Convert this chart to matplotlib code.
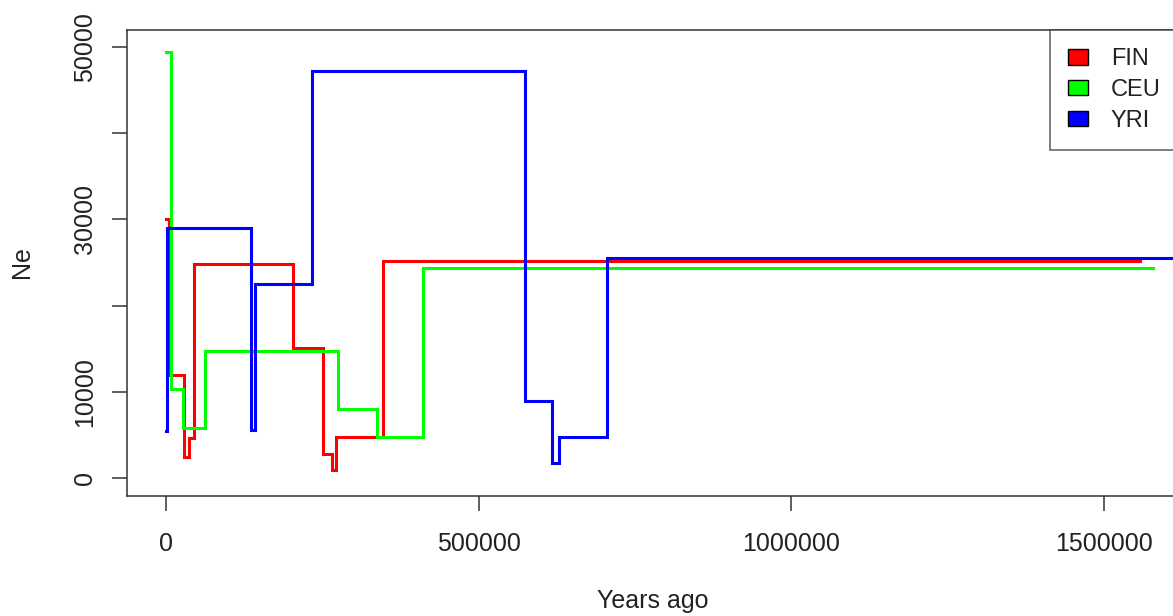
import matplotlib
matplotlib.use("Agg")
import matplotlib.pyplot as plt
from matplotlib.patches import Patch

plt.rcParams['font.family'] = ['Liberation Sans', 'DejaVu Sans']

# ---- data ----
series_names = ["FIN", "CEU", "YRI"]
series_colors = ["#ff0000", "#00ff00", "#0000ff"]

fin_years = [0, 4000, 28600, 36600, 44600, 203000, 251000, 265400, 271400, 346000, 1558000]
fin_ne = [30050, 11970, 2420, 4630, 24800, 15130, 2820, 1000, 4750, 25200, 25200]

ceu_years = [0, 6900, 26100, 61800, 274000, 337500, 411000, 1579000]
ceu_ne = [49430, 10310, 5860, 14790, 8000, 4750, 24400, 24400]

yri_years = [0, 1500, 134900, 141800, 233400, 573300, 617400, 628600, 705400, 1650000]
yri_ne = [5520, 28970, 5560, 22510, 47200, 8960, 1740, 4820, 25490, 25490]

x_ticks = [0, 500000, 1000000, 1500000]
x_tick_labels = ["0", "500000", "1000000", "1500000"]
y_ticks = [0, 10000, 20000, 30000, 40000, 50000]
y_tick_labels = ["0", "10000", "", "30000", "", "50000"]

xlim = (-62320, 1620320)
ylim = (-2000, 52000)

# ---- figure ----
W, H = 1173, 616
fig = plt.figure(figsize=(W / 100, H / 100), dpi=100)
left_px, right_px, top_px, bottom_px = 127.4, 1179.1, 29.5, 495.6
ax = fig.add_axes([left_px / W, 1 - bottom_px / H,
                   (right_px - left_px) / W, (bottom_px - top_px) / H])

data = [(fin_years, fin_ne), (ceu_years, ceu_ne), (yri_years, yri_ne)]
for (xs, ys), name, col in zip(data, series_names, series_colors):
    ax.step(xs, ys, where="post", color=col, lw=2.2, label=name,
            solid_joinstyle="miter")

ax.set_xlim(*xlim)
ax.set_ylim(*ylim)

frame_col = "#333333"
for sp in ax.spines.values():
    sp.set_color(frame_col)
    sp.set_linewidth(1.1)

ax.set_xticks(x_ticks)
ax.set_xticklabels(x_tick_labels)
ax.set_yticks(y_ticks)
ax.set_yticklabels(y_tick_labels, rotation=90, va="center")
ax.tick_params(axis="both", direction="out", length=11, width=1.1,
               color=frame_col, labelsize=18, labelcolor="#222222")
ax.tick_params(axis="x", pad=15)
ax.tick_params(axis="y", pad=11)

ax.set_xlabel("Years ago", fontsize=18, color="#222222", labelpad=24)
ax.set_ylabel("Ne", fontsize=18, color="#222222", labelpad=28)

handles = [Patch(facecolor=c, edgecolor="black", linewidth=1.0) for c in series_colors]
leg = ax.legend(handles, series_names, loc="upper right", fontsize=17,
                frameon=True, fancybox=False, edgecolor="black",
                borderaxespad=0, borderpad=0.78, handlelength=0.85,
                handleheight=0.65, handletextpad=0.95, labelspacing=0.38)
leg.get_frame().set_linewidth(1.1)
leg.get_frame().set_edgecolor(frame_col)
for t in leg.get_texts():
    t.set_color("#222222")

fig.savefig("out.png", dpi=100)
